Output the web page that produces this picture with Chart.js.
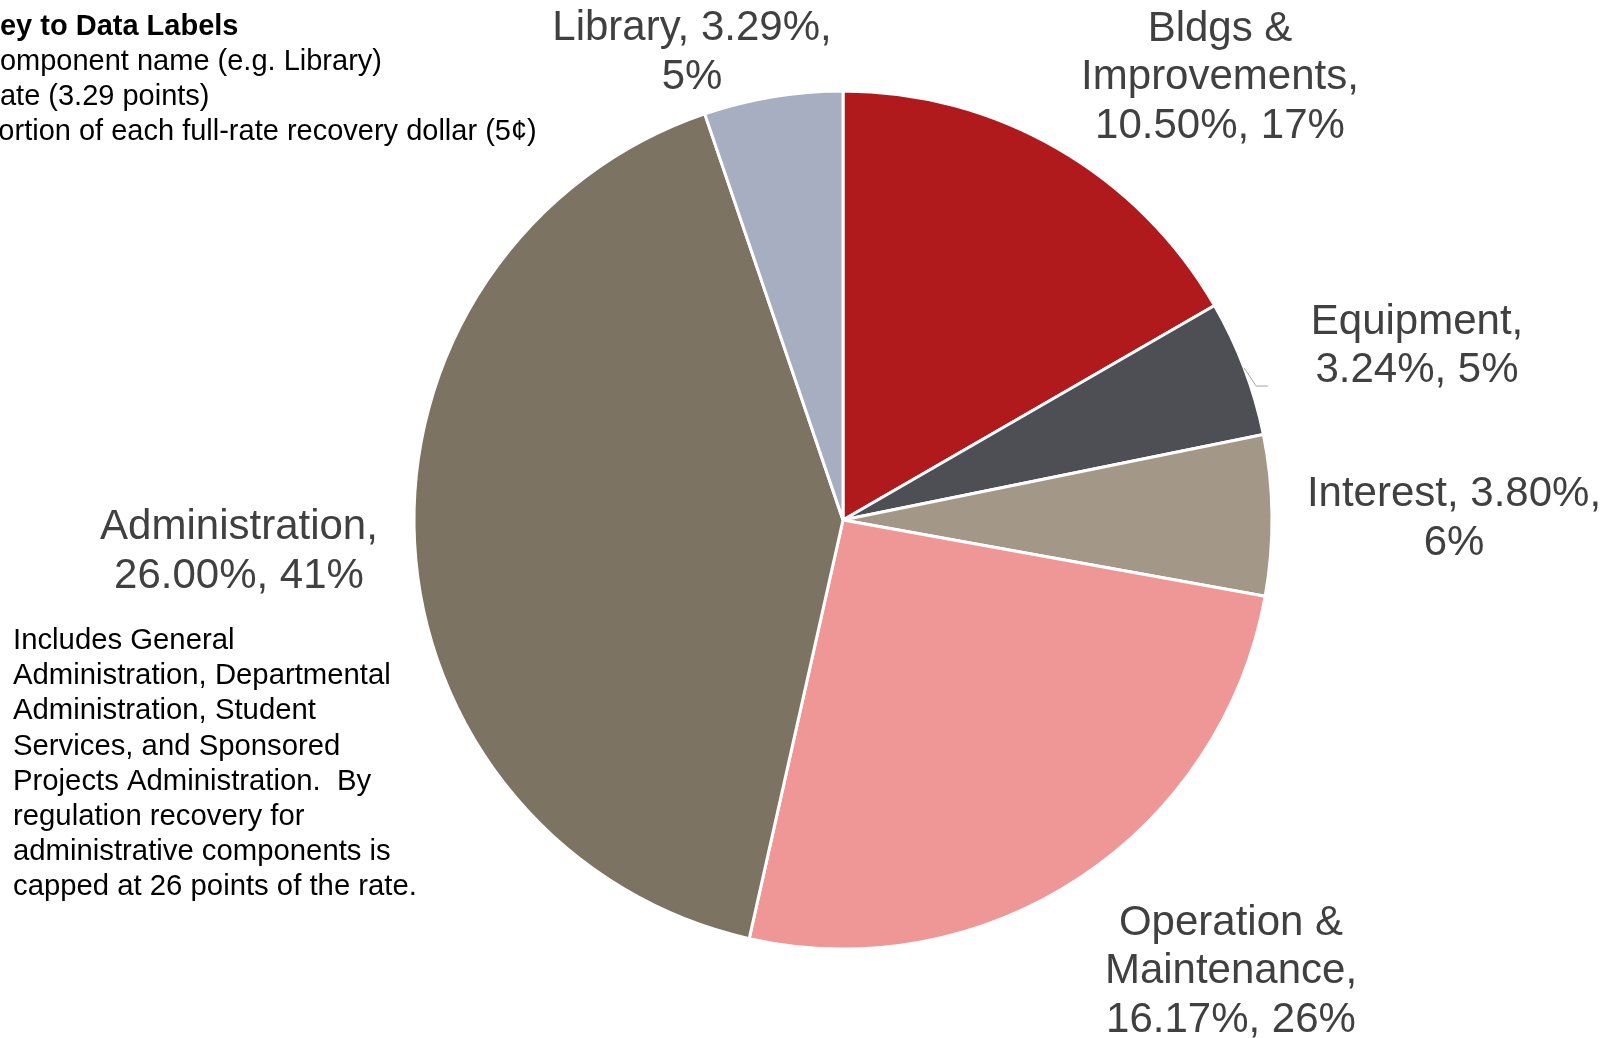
<!DOCTYPE html>
<html><head><meta charset="utf-8">
<script src="https://cdn.jsdelivr.net/npm/chart.js@4.4.1/dist/chart.umd.min.js"></script>
<style>html,body{margin:0;padding:0;background:#fff;overflow:hidden}canvas{display:block}</style>
</head><body>
<canvas id="c" width="1612" height="1038"></canvas>
<script>
// ---- data ----
const categories = ['Bldgs & Improvements', 'Equipment', 'Interest', 'Operation & Maintenance', 'Administration', 'Library'];
const rates = [10.50, 3.24, 3.80, 16.17, 26.00, 3.29];
const colors = ['#B01A1D', '#4D4F54', '#A39887', '#EF9696', '#7C7363', '#A7AEC1'];
const keyLines = ['Key to Data Labels', 'Component name (e.g. Library)', 'Rate (3.29 points)', 'Portion of each full-rate recovery dollar (5\u00a2)'];
const noteLines = ['Includes General', 'Administration, Departmental', 'Administration, Student', 'Services, and Sponsored', 'Projects Administration.  By', 'regulation recovery for', 'administrative components is', 'capped at 26 points of the rate.'];

// ---- layout (label block centres relative to pie centre, wrap widths) ----
const labelOffsets = [[377, -442.5], [574, -173.5], [611, -1], [388, 451.5], [-604, 32], [-151, -467]];
const labelWrap = [300, 300, 310, 270, 300, 300];
const FONT = '"Liberation Sans", Arial, sans-serif';

function wrap(ctx, text, maxW) {
  const words = text.split(' ');
  const lines = [];
  let cur = '';
  for (const w of words) {
    const t = cur ? cur + ' ' + w : w;
    if (cur && ctx.measureText(t).width > maxW) { lines.push(cur); cur = w; }
    else cur = t;
  }
  if (cur) lines.push(cur);
  return lines;
}

const labelPlugin = {
  id: 'labels',
  afterDatasetsDraw(chart) {
    const ctx = chart.ctx;
    const meta = chart.getDatasetMeta(0);
    const total = rates.reduce((a, b) => a + b, 0);
    const arc0 = meta.data[0];
    const cx = arc0.x, cy = arc0.y;
    ctx.save();
    // data labels
    ctx.fillStyle = '#404040';
    ctx.font = '42px ' + FONT;
    ctx.textAlign = 'center';
    ctx.textBaseline = 'middle';
    categories.forEach((name, i) => {
      const txt = name + ', ' + rates[i].toFixed(2) + '%, ' + Math.round(rates[i] / total * 100) + '%';
      const lines = wrap(ctx, txt, labelWrap[i]);
      const lh = 48.5;
      const bx = cx + labelOffsets[i][0];
      const by = cy + labelOffsets[i][1] - (lines.length - 1) * lh / 2;
      lines.forEach((l, k) => ctx.fillText(l, bx, by + k * lh));
    });
    // leader line for Equipment
    const a = meta.data[1];
    const mid = (a.startAngle + a.endAngle) / 2;
    const sx = a.x + Math.cos(mid) * a.outerRadius;
    const sy = a.y + Math.sin(mid) * a.outerRadius;
    ctx.strokeStyle = '#A6A6A6';
    ctx.lineWidth = 1;
    ctx.beginPath();
    ctx.moveTo(sx, sy);
    ctx.lineTo(sx + 12, sy + 18);
    ctx.lineTo(sx + 24, sy + 18);
    ctx.stroke();
    // key
    ctx.fillStyle = '#000';
    ctx.textAlign = 'left';
    keyLines.forEach((l, k) => {
      ctx.font = (k === 0 ? 'bold ' : '') + '29px ' + FONT;
      ctx.fillText(l, -21, 26.5 + k * 35);
    });
    ctx.font = '29.3px ' + FONT;
    noteLines.forEach((l, k) => ctx.fillText(l, 13, 641 + k * 35.2));
    ctx.restore();
  }
};

new Chart(document.getElementById('c'), {
  type: 'pie',
  data: {
    labels: categories,
    datasets: [{
      data: rates,
      backgroundColor: colors,
      borderColor: '#ffffff',
      borderWidth: 3,
      hoverOffset: 0,
      radius: 429
    }]
  },
  options: {
    responsive: false,
    animation: false,
    layout: { padding: { left: 374, right: 300, top: 52, bottom: 50 } },
    plugins: { legend: { display: false }, tooltip: { enabled: false } }
  },
  plugins: [labelPlugin]
});
</script>
</body></html>
